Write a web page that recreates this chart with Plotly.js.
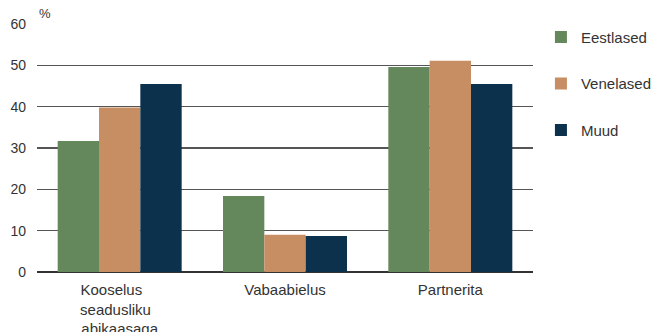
<!DOCTYPE html>
<html>
<head>
<meta charset="utf-8">
<script src="https://cdn.plot.ly/plotly-3.0.1.min.js"></script>
<style>html,body{margin:0;padding:0;background:#fff;}#chart{width:654px;height:332px;}</style>
</head>
<body>
<div id="chart"></div>
<script>
var categories = ["Kooselus\u00A0\u00A0\u00A0\u00A0<br>seadusliku\u00A0\u00A0<br>abikaasaga", "Vabaabielus", "Partnerita"];
var seriesNames = ["Eestlased", "Venelased", "Muud"];
var eestlased = [31.7, 18.4, 49.6];
var venelased = [39.8, 9.0, 51.1];
var muud = [45.5, 8.7, 45.5];
var yTicks = [0, 10, 20, 30, 40, 50, 60];
var colors = ["#64875C", "#C68E62", "#0C314C"];

var values = [eestlased, venelased, muud];
var traces = values.map(function (v, i) {
  return {
    type: "bar",
    name: seriesNames[i],
    x: categories,
    y: v,
    marker: {color: colors[i], line: {color: colors[i], width: 0}},
    legendgroup: "g" + i,
    hoverinfo: "none"
  };
});

var fam = "Liberation Sans, Arial, sans-serif";
var font = {family: fam, size: 14, color: "#333333"};
var layout = {
  width: 654, height: 332,
  margin: {l: 37, r: 121, t: 24, b: 60, autoexpand: false},
  paper_bgcolor: "#ffffff", plot_bgcolor: "#ffffff",
  font: font,
  barmode: "group",
  bargap: 0.25, bargroupgap: 0,
  showlegend: true,
  legend: {
    x: 1.016, xanchor: "left", y: 1.013, yanchor: "top",
    font: {family: fam, size: 15, color: "#333333"},
    tracegroupgap: 24,
    bgcolor: "rgba(0,0,0,0)"
  },
  xaxis: {
    showgrid: false, showline: false, zeroline: false,
    ticks: "", tickfont: {family: fam, size: 15, color: "#333333"}, ticklabelstandoff: 7
  },
  yaxis: {
    range: [0, 60], tickvals: yTicks, ticktext: yTicks.map(String),
    showgrid: true, gridcolor: "#555555", gridwidth: 1.3,
    zeroline: true, zerolinecolor: "#333333", zerolinewidth: 1.5,
    showline: false, ticks: "", tickfont: font, ticklabelstandoff: 10
  },
  annotations: [{
    text: "%", xref: "paper", yref: "paper", x: 0, y: 1,
    xanchor: "left", yanchor: "bottom", showarrow: false,
    font: {family: fam, size: 13, color: "#333333"}, yshift: 1
  }]
};

Plotly.newPlot("chart", traces, layout, {displayModeBar: false, staticPlot: true});
</script>
</body>
</html>
